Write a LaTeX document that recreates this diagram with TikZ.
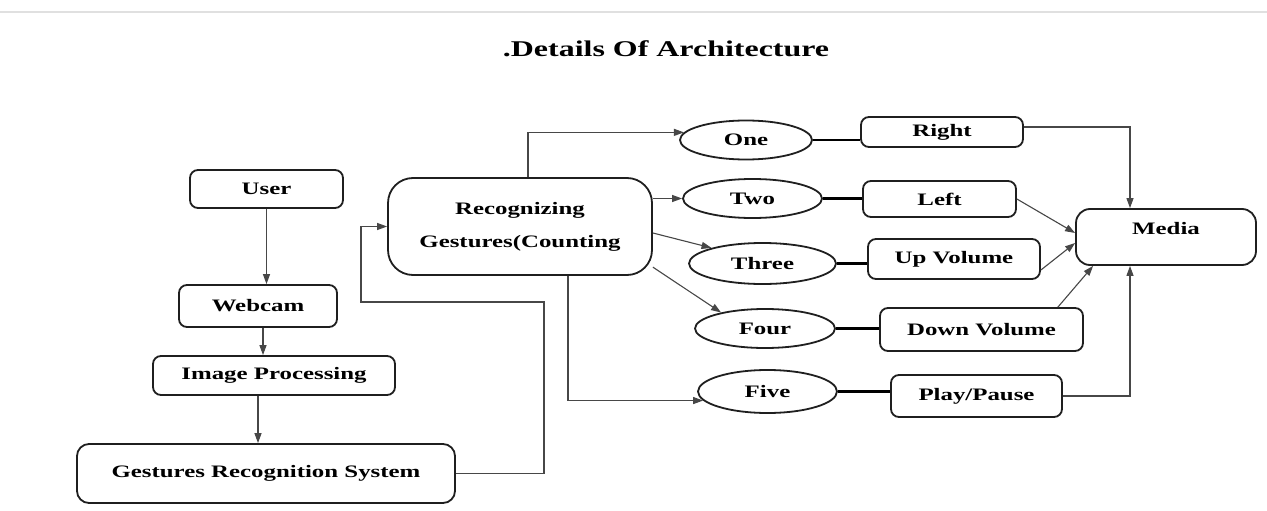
\documentclass[tikz,border=0pt]{standalone}
\usepackage{fontspec}
\setmainfont{Liberation Serif}
\newfontfamily\boxfont{Liberation Serif}[FakeStretch=1.42]
\usetikzlibrary{shapes.geometric,arrows.meta,calc}
\tikzset{
  sz/.style 2 args={minimum width=#1pt,minimum height=#2pt},
  box/.style={draw=black!88, line width=1.8pt, rounded corners=8pt, inner sep=0pt,
    font={\boxfont\bfseries\fontsize{17.5}{20}\selectfont}},
  ell/.style={ellipse, draw=black!88, line width=1.8pt, inner sep=0pt,
    font={\boxfont\bfseries\fontsize{17.5}{20}\selectfont}},
  conn/.style={draw=black!72, line width=1.1pt},
  arr/.style={conn, -{Triangle[length=10pt,width=7pt]}},
  link/.style={draw=black, line width=2.6pt},
}
\begin{document}
\begin{tikzpicture}[x=1pt,y=-1pt]
\useasboundingbox[fill=white] (0,0) rectangle (1267,511);
\draw[black!12, line width=1.5pt] (0,12) -- (1267,12);
\node[font={\boxfont\bfseries\fontsize{22.5}{26}\selectfont}] (title) at (666,49) {.Details Of Architecture};

% left column
\node[box, sz={153}{38}] (user) at (266.5,189) {User};
\node[box, sz={158}{42}] (webcam) at (258,306) {Webcam};
\node[box, sz={242}{39}] (improc) at (274,375.5) {Image Processing};
\node[box, sz={378}{59}, rounded corners=12pt] (grs) at (266,473.5) {Gestures Recognition System};

% centre
\node[box, sz={264}{97}, rounded corners=25pt, align=center,
  font={\boxfont\bfseries\fontsize{17.5}{33}\selectfont}] (recog) at (520,226.5) {Recognizing\\Gestures(Counting};

% ellipses
\node[ell, sz={132}{39}] (one) at (746,140) {One};
\node[ell, sz={139}{39}] (two) at (752.5,198.5) {Two};
\node[ell, sz={147}{41}] (three) at (762.5,263.5) {Three};
\node[ell, sz={140}{39}] (four) at (765,328.5) {Four};
\node[ell, sz={139}{43}] (five) at (767.5,391.5) {Five};

% actions
\node[box, sz={162}{30}] (right) at (942,132) {Right};
\node[box, sz={153}{36}] (left) at (939.5,199) {Left};
\node[box, sz={172}{40}] (upvol) at (954,259) {Up Volume};
\node[box, sz={203}{43}] (downvol) at (981.5,329.5) {Down Volume};
\node[box, sz={171}{42}] (play) at (976.5,396) {Play/Pause};
\node[box, sz={180}{56}, rounded corners=14pt, text height=12pt, text depth=18pt] (media) at (1166,237) {Media};

% left column connectors
\draw[arr] (user.south) -- (user.south |- webcam.north);
\draw[arr] ([xshift=5pt]webcam.south) -- ([xshift=5pt]webcam.south |- improc.north);
\draw[arr] ([xshift=-16pt]improc.south) -- ([xshift=-16pt]improc.south |- grs.north);

% feedback
\coordinate (fbA) at (544,302);
\coordinate (fbB) at (361,302);
\draw[arr] (grs.east) -| (fbA) -- (fbB) |- (recog.west);

% recog to ellipses
\draw[arr] ([xshift=8pt]recog.north) |- (one.173);
\draw[arr] (two.west -| recog.east) -- (two.west);
\draw[arr] ([yshift=-6.5pt]recog.east) -- (three.163);
\draw[arr] (recog.-17.7) -- (four.160);
\draw[arr] ([xshift=48pt]recog.south) |- (five.188);

% ellipse to action
\draw[link] (one.east) -- (one.east -| right.west);
\draw[link] (two.east) -- (two.east -| left.west);
\draw[link] (three.east) -- (three.east -| upvol.west);
\draw[link] (four.east) -- (four.east -| downvol.west);
\draw[link] (five.east) -- (five.east -| play.west);

% actions to media
\draw[arr] ([yshift=5pt]right.east) -| ([xshift=-36pt]media.north);
\draw[arr] (left.east) -- ([yshift=4pt]media.west);
\draw[arr] ([yshift=-11pt]upvol.east) -- ([yshift=-6pt]media.west);
\draw[arr] ([xshift=-26pt]downvol.north east) -- ([xshift=18pt]media.south west);
\draw[arr] (play.east) -| ([xshift=-36pt]media.south);
\end{tikzpicture}
\end{document}
